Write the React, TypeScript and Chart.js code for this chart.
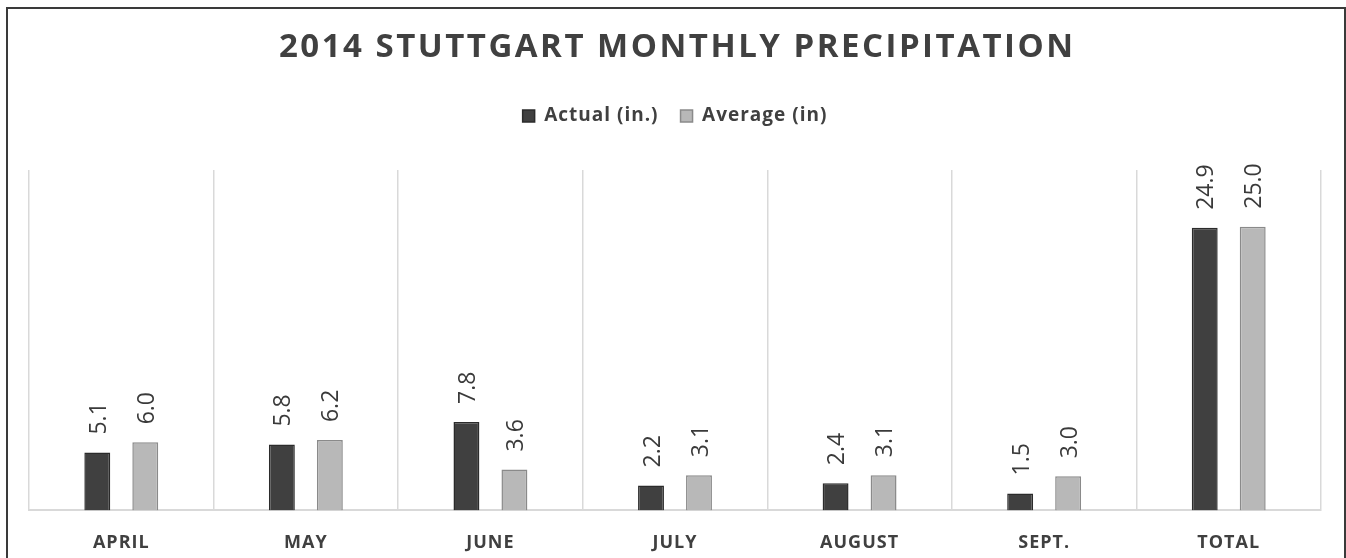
import React, { useEffect, useRef } from "react";
import { Chart, registerables } from "chart.js";

Chart.register(...registerables);

const categories = ["APRIL", "MAY", "JUNE", "JULY", "AUGUST", "SEPT.", "TOTAL"];
const actualValues = [5.1, 5.8, 7.8, 2.2, 2.4, 1.5, 24.9];
const averageValues = [6.0, 6.2, 3.6, 3.1, 3.1, 3.0, 25.0];
const seriesNames = ["Actual (in.)", "Average (in)"];
const titleText = "2014 STUTTGART MONTHLY PRECIPITATION";

const FONT = '"Open Sans", "Noto Sans", sans-serif';
const TEXT = "#404040";

const spacingPlugin = {
  id: "spacing",
  beforeLayout(chart: any) {
    chart.ctx.letterSpacing = "1px";
  },
  beforeDraw(chart: any) {
    chart.ctx.letterSpacing = "1px";
  },
};

const legendGapPlugin = {
  id: "legendGap",
  beforeInit(chart: any) {
    const lg = chart.legend;
    if (!lg) return;
    const orig = lg.fit;
    lg.fit = function () {
      orig.call(this);
      this.height += 34.5;
    };
  },
};

const titlePlugin = {
  id: "spacedTitle",
  afterDraw(chart: any) {
    const ctx = chart.ctx;
    ctx.save();
    ctx.font = `bold 33px ${FONT}`;
    ctx.letterSpacing = "2.5px";
    ctx.fillStyle = TEXT;
    ctx.textAlign = "center";
    ctx.textBaseline = "middle";
    ctx.fillText(titleText, chart.width / 2 + 1.25, 39);
    ctx.restore();
  },
};

const valueLabelPlugin = {
  id: "valueLabels",
  afterDatasetsDraw(chart: any) {
    const ctx = chart.ctx;
    chart.data.datasets.forEach((ds: any, di: number) => {
      const meta = chart.getDatasetMeta(di);
      meta.data.forEach((bar: any, i: number) => {
        const v = ds.data[i];
        ctx.save();
        ctx.font = `normal 23px ${FONT}`;
        ctx.letterSpacing = "0px";
        ctx.fillStyle = "#3a3a3a";
        ctx.translate(bar.x + 2, bar.y - 18);
        ctx.rotate(-Math.PI / 2);
        ctx.textAlign = "left";
        ctx.textBaseline = "middle";
        ctx.fillText(Number(v).toFixed(1), 0, 0);
        ctx.restore();
      });
    });
  },
};

export default function App() {
  const ref = useRef<HTMLCanvasElement | null>(null);

  useEffect(() => {
    if (!ref.current) return;
    const chart = new Chart(ref.current, {
      type: "bar",
      data: {
        labels: categories,
        datasets: [
          {
            label: seriesNames[0],
            data: actualValues,
            backgroundColor: "#404040",
            borderColor: "#2b2b2b",
            borderWidth: 1.5,
            categoryPercentage: 0.52,
            barPercentage: 0.54,
          },
          {
            label: seriesNames[1],
            data: averageValues,
            backgroundColor: "#b8b8b8",
            borderColor: "#8a8a8a",
            borderWidth: 1.5,
            categoryPercentage: 0.52,
            barPercentage: 0.54,
          },
        ],
      },
      options: {
        animation: false,
        responsive: true,
        maintainAspectRatio: false,
        layout: { padding: { top: 75.5, left: 21, right: 23, bottom: -18 } },
        plugins: {
          title: { display: false },
          tooltip: { enabled: false },
          legend: {
            display: true,
            position: "top",
            labels: {
              boxWidth: 12,
              boxHeight: 12,
              padding: 22,
              color: TEXT,
              font: { family: FONT, size: 19, weight: "bold" },
            },
          },
        },
        scales: {
          x: {
            offset: true,
            grid: {
              display: true,
              offset: true,
              color: "#d9d9d9",
              lineWidth: 1.5,
              drawTicks: false,
            },
            border: { display: true, color: "#d9d9d9", width: 2 },
            ticks: {
              color: TEXT,
              padding: 22,
              font: { family: FONT, size: 18, weight: "bold" },
            },
          },
          y: {
            display: false,
            min: 0,
            max: 30,
          },
        },
      },
      plugins: [spacingPlugin, legendGapPlugin, titlePlugin, valueLabelPlugin],
    });
    return () => chart.destroy();
  }, []);

  return (
    <div
      style={{
        position: "absolute",
        left: 6,
        top: 7,
        width: 1336,
        height: 551,
        borderTop: "2px solid #3a3a3a",
        borderLeft: "2px solid #3a3a3a",
        borderRight: "2px solid #3a3a3a",
        background: "#fff",
      }}
    >
      <div style={{ position: "relative", width: 1336, height: 549 }}>
        <canvas ref={ref} />
      </div>
    </div>
  );
}
